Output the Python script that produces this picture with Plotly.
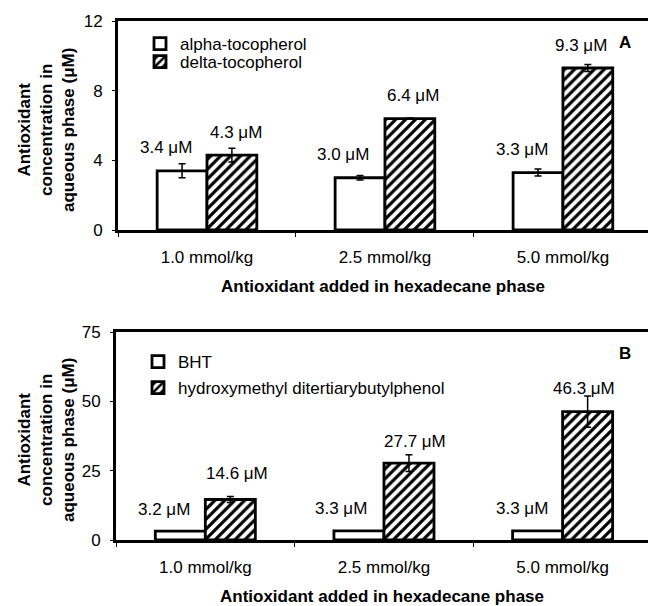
import plotly.graph_objects as go

# ---------------- data ----------------
categories = ["1.0 mmol/kg", "2.5 mmol/kg", "5.0 mmol/kg"]

alpha_toc = [3.4, 3.0, 3.3]
alpha_err = [0.4, 0.13, 0.2]
delta_toc = [4.3, 6.4, 9.3]
delta_err = [0.4, 0.03, 0.2]

bht = [3.2, 3.3, 3.3]
bht_err = [0.0, 0.0, 0.0]
hmdbp = [14.6, 27.7, 46.3]
hmdbp_err = [1.1, 3.0, 5.6]

yticks_a = [0, 4, 8, 12]
yticks_b = [0, 25, 50, 75]

# ---------------- style ----------------
W, H = 648, 606
FONT = "Arial, Liberation Sans, sans-serif"
FS = 17

def px_x(p):
    return p / W

def px_y(p):
    return 1 - p / H

fig = go.Figure()

def add_bar(name, vals, errs, xa, ya, legend, hatched):
    marker = dict(color="white", line=dict(color="black", width=2.8))
    if hatched:
        marker["pattern"] = dict(shape="/", fgcolor="black", bgcolor="white",
                                 size=7, solidity=0.45, fgopacity=1)
    fig.add_trace(go.Bar(
        x=categories, y=vals, name=name, xaxis=xa, yaxis=ya, legend=legend,
        marker=marker,
        error_y=dict(type="data", array=errs, visible=True, color="black",
                     thickness=1.5, width=3.5),
    ))

add_bar("alpha-tocopherol", alpha_toc, alpha_err, "x", "y", "legend", False)
add_bar("delta-tocopherol", delta_toc, delta_err, "x", "y", "legend2", True)
add_bar("BHT", bht, bht_err, "x2", "y2", "legend3", False)
add_bar("hydroxymethyl ditertiarybutylphenol", hmdbp, hmdbp_err, "x2", "y2",
        "legend4", True)

# value labels
ann = []
def labels(vals, xref, yref, dxs, dys):
    for c, v, dx, dy in zip(categories, vals, dxs, dys):
        ann.append(dict(x=c, y=v, xref=xref, yref=yref, text=f"{v:.1f} μM",
                        showarrow=False, xshift=dx, yshift=dy,
                        xanchor="center", yanchor="middle",
                        font=dict(family=FONT, size=FS, color="black")))

labels(alpha_toc, "x", "y", [-41, -42, -41], [23, 23, 23])
labels(delta_toc, "x", "y", [29, 28, 18], [23, 23, 23])
labels(bht, "x2", "y2", [-41, -43, -41], [22, 22, 22])
labels(hmdbp, "x2", "y2", [32, 31, 21], [26, 22, 23])

for t, yy in (("A", 42), ("B", 353)):
    ann.append(dict(x=px_x(625), y=px_y(yy), xref="paper", yref="paper",
                    text=t, showarrow=False, xanchor="center", yanchor="middle",
                    font=dict(family=FONT, size=FS, color="black", weight="bold")))

ytitle = "Antioxidant<br>concentration in<br>aqueous phase (μM)"
for yc in (130, 440):
    ann.append(dict(x=px_x(46), y=px_y(yc), xref="paper", yref="paper",
                    text=ytitle, textangle=-90, showarrow=False,
                    xanchor="center", yanchor="middle",
                    font=dict(family=FONT, size=FS, color="black", weight="bold")))

fig.update_layout(annotations=ann)

xcommon = dict(type="category", range=[-0.5, 2.478], showline=True,
               linecolor="black", linewidth=3, mirror=True,
               ticks="outside", tickson="boundaries", ticklen=4,
               tickcolor="black", showgrid=False, zeroline=False,
               automargin=False,
               tickfont=dict(family=FONT, size=FS, color="black"),
               ticklabelstandoff=10)
ycommon = dict(showline=True, linecolor="black", linewidth=3, mirror=False,
               ticks="outside", ticklen=3, tickcolor="black",
               showgrid=False, zeroline=False, automargin=False,
               tickfont=dict(family=FONT, size=FS, color="black"),
               ticklabelstandoff=6)

xt = dict(text="Antioxidant added in hexadecane phase",
          font=dict(family=FONT, size=FS, color="black", weight="bold"),
          standoff=14)

def leg(xp, yp):
    return dict(x=px_x(xp), y=px_y(yp), xanchor="left", yanchor="middle",
                bgcolor="rgba(0,0,0,0)", borderwidth=0,
                font=dict(family=FONT, size=FS, color="black"))

fig.update_layout(
    width=W, height=H,
    margin=dict(l=0, r=0, t=0, b=0, autoexpand=False),
    paper_bgcolor="white", plot_bgcolor="white",
    barmode="group", bargap=0.44, bargroupgap=0,
    font=dict(family=FONT, size=FS, color="black"),
    xaxis=dict(domain=[px_x(118), 1], anchor="y", title=xt, **xcommon),
    yaxis=dict(domain=[px_y(230), px_y(21)], anchor="x", range=[0, 12],
               tickvals=yticks_a, **ycommon),
    xaxis2=dict(domain=[px_x(116), 1], anchor="y2", title=xt, **xcommon),
    yaxis2=dict(domain=[px_y(540), px_y(332)], anchor="x2", range=[0, 75],
                tickvals=yticks_b, **ycommon),
    legend=leg(140, 44),
    legend2=leg(140, 62),
    legend3=leg(138, 362),
    legend4=leg(138, 388),
    showlegend=True,
)

fig.write_html("out.html")
